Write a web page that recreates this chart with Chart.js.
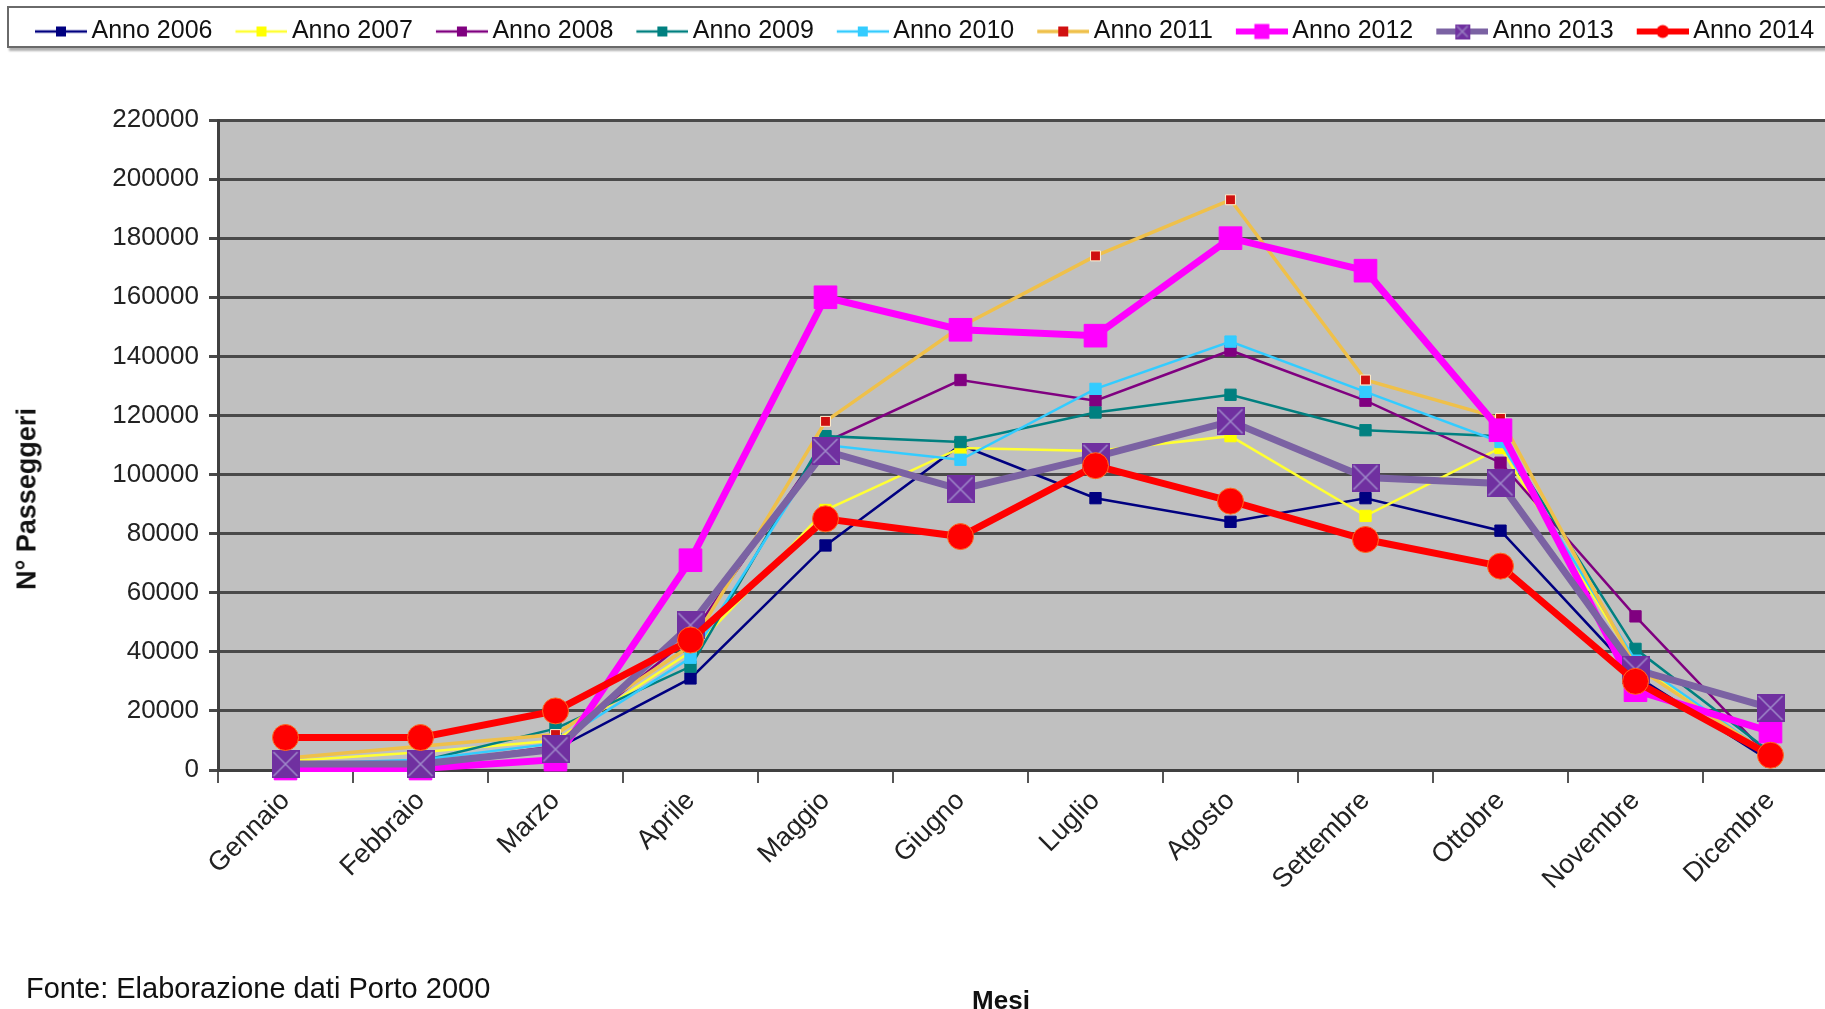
<!DOCTYPE html>
<html>
<head>
<meta charset="utf-8">
<script src="https://cdn.jsdelivr.net/npm/chart.js"></script>
<style>
html, body { margin: 0; padding: 0; background: #fff; overflow: hidden; width: 1825px; height: 1009px; }
#wrap { position: absolute; left: 0; top: 0; width: 1840px; height: 1009px; }
#chart { width: 1840px; height: 1009px; }
#legend-box { position: absolute; left: 7px; top: 6px; width: 1840px; height: 38px; border: 2px solid #6a6a6a; box-shadow: 2px 3px 2px #b0b0b0; }
#ytitle { position: absolute; left: 27px; top: 499px; transform: translate(-50%, -50%) rotate(-90deg); font: bold 27px "Liberation Sans", Arial, sans-serif; white-space: nowrap; color: #111; }
#fonte { position: absolute; left: 26px; top: 972px; font: 29px "Liberation Sans", Arial, sans-serif; color: #111; white-space: nowrap; }
#mesi { position: absolute; left: 1001px; top: 985px; transform: translateX(-50%); font: bold 26px "Liberation Sans", Arial, sans-serif; color: #111; }
</style>
</head>
<body>
<div id="legend-box"></div>
<div id="wrap"><canvas id="chart" width="1840" height="1009"></canvas></div>
<div id="ytitle">N° Passeggeri</div>
<div id="fonte">Fonte: Elaborazione dati Porto 2000</div>
<div id="mesi">Mesi</div>
<script>
const mesi = ['Gennaio', 'Febbraio', 'Marzo', 'Aprile', 'Maggio', 'Giugno', 'Luglio', 'Agosto', 'Settembre', 'Ottobre', 'Novembre', 'Dicembre'];
const anni = ['Anno 2006', 'Anno 2007', 'Anno 2008', 'Anno 2009', 'Anno 2010', 'Anno 2011', 'Anno 2012', 'Anno 2013', 'Anno 2014'];

const v2006 = [1500, 2000, 7000, 31000, 76000, 110000, 92000, 84000, 92000, 81000, 32000, 3000];
const v2007 = [3000, 6000, 10000, 40000, 88000, 109000, 108000, 113000, 86000, 109000, 36000, 5000];
const v2008 = [1000, 2000, 8000, 45000, 111000, 132000, 125000, 142000, 125000, 104000, 52000, 4000];
const v2009 = [2000, 3000, 14000, 35000, 113000, 111000, 121000, 127000, 115000, 113000, 41000, 6000];
const v2010 = [2000, 3500, 9000, 38000, 110000, 105000, 129000, 145000, 128000, 111000, 37000, 5000];
const v2011 = [4000, 8000, 12000, 42000, 118000, 150000, 174000, 193000, 132000, 119000, 35000, 5000];
const v2012 = [500, 500, 3500, 71000, 160000, 149000, 147000, 180000, 169000, 115000, 27000, 13000];
const v2013 = [2000, 2000, 7000, 49000, 108000, 95000, 106000, 118000, 99000, 97000, 34000, 21000];
const v2014 = [11000, 11000, 20000, 44000, 85000, 79000, 103000, 91000, 78000, 69000, 30000, 5000];
const serie = [v2006, v2007, v2008, v2009, v2010, v2011, v2012, v2013, v2014];

const yMax = 220000;
const yStep = 20000;

// stile di ogni anno (colore linea, colore punto, spessori)
const stili = [
    { line: '#000080', fill: '#000080', edge: '#000080', w: 2.5, r: 8, ps: 'rect' },
    { line: '#ffff33', fill: '#ffff00', edge: '#ffff00', w: 2.5, r: 8, ps: 'rect' },
    { line: '#800080', fill: '#800080', edge: '#800080', w: 2.5, r: 8, ps: 'rect' },
    { line: '#008080', fill: '#008080', edge: '#008080', w: 2.5, r: 8, ps: 'rect' },
    { line: '#33ccff', fill: '#33ccff', edge: '#33ccff', w: 2.5, r: 8, ps: 'rect' },
    { line: '#efc04a', fill: '#d01010', edge: '#fff2d0', w: 3.5, r: 7, ps: 'rect' },
    { line: '#ff00ff', fill: '#ff00ff', edge: '#ff00ff', w: 7, r: 16, ps: 'rect' },
    { line: '#7b62a3', fill: '#7030a0', edge: '#7030a0', w: 7, r: 14, ps: 'cross' },
    { line: '#ff0000', fill: '#ff0000', edge: '#ff6a20', w: 7, r: 13, ps: 'circle' }
];

function crossSquare(size, fill, cross) {
    const c = document.createElement('canvas');
    c.width = size; c.height = size;
    const g = c.getContext('2d');
    g.fillStyle = fill;
    g.fillRect(0, 0, size, size);
    g.strokeStyle = cross;
    g.lineWidth = 1.5;
    g.beginPath();
    g.moveTo(2, 2); g.lineTo(size - 2, size - 2);
    g.moveTo(size - 2, 2); g.lineTo(2, size - 2);
    g.stroke();
    return c;
}

// icona legenda: linea + marcatore, spostata a destra per avvicinare il testo
function legendIcon(st) {
    const c = document.createElement('canvas');
    c.width = 64; c.height = 22;
    const g = c.getContext('2d');
    const x0 = 12, x1 = 64, cx = 38;
    g.strokeStyle = st.line;
    g.lineWidth = Math.min(st.w, 6);
    g.beginPath(); g.moveTo(x0, 11); g.lineTo(x1, 11); g.stroke();
    const big = st.w > 5;
    const s = big ? 15 : 10;
    if (st.ps === 'circle') {
        g.fillStyle = st.fill;
        g.beginPath(); g.arc(cx, 11, 6.5, 0, Math.PI * 2); g.fill();
    } else if (st.ps === 'cross') {
        g.drawImage(crossSquare(s, st.fill, '#9b86c4'), cx - s / 2, 11 - s / 2);
    } else {
        g.fillStyle = st.fill;
        g.fillRect(cx - s / 2, 11 - s / 2, s, s);
    }
    return c;
}

const icone = stili.map(legendIcon);

const datasets = anni.map((nome, i) => {
    const st = stili[i];
    return {
        label: nome,
        data: serie[i],
        borderColor: st.line,
        backgroundColor: st.fill,
        borderWidth: st.w,
        pointStyle: st.ps === 'cross' ? crossSquare(st.r * 2, st.fill, '#a08ccb') : st.ps,
        pointRadius: st.r,
        pointBackgroundColor: st.fill,
        pointBorderColor: st.edge,
        pointBorderWidth: 1,
        tension: 0,
        clip: false,
        order: anni.length - 1 - i
    };
});

const bgPlugin = {
    id: 'plotBg',
    beforeDraw(chart) {
        const a = chart.chartArea;
        const c = chart.ctx;
        c.save();
        c.fillStyle = '#c0c0c0';
        c.fillRect(a.left, a.top, a.right - a.left, a.bottom - a.top);
        c.restore();
    }
};

const legendHeight = {
    id: 'legendHeight',
    afterInit(chart) {
        const lg = chart.legend;
        const orig = lg.fit;
        lg.fit = function () { orig.call(this); this.height = 120; };
    }
};

const ctx = document.getElementById('chart').getContext('2d');
const chart = new Chart(ctx, {
    type: 'line',
    data: { labels: mesi, datasets: datasets },
    options: {
        responsive: false,
        animation: false,
        layout: { autoPadding: false, padding: { top: 0, left: 12, right: 2, bottom: 0 } },
        plugins: {
            legend: {
                position: 'top',
                align: 'start',
                labels: {
                    usePointStyle: true,
                    pointStyleWidth: 48,
                    padding: 19,
                    color: '#111',
                    font: { family: 'Liberation Sans', size: 25 },
                    sort: (a, b) => a.datasetIndex - b.datasetIndex,
                    generateLabels: (ch) => {
                        const items = Chart.defaults.plugins.legend.labels.generateLabels(ch);
                        items.forEach(it => { it.pointStyle = icone[it.datasetIndex]; });
                        return items;
                    }
                }
            },
            tooltip: { enabled: false }
        },
        scales: {
            x: {
                offset: true,
                grid: { offset: true, drawOnChartArea: false, drawTicks: true, tickLength: 13, color: '#555', lineWidth: 2 },
                border: { color: '#404040', width: 3 },
                ticks: { autoSkip: false, maxRotation: 45, minRotation: 45, padding: 2, color: '#222', font: { family: 'Liberation Sans', size: 27 } },
                afterFit: (s) => { s.height = 239; }
            },
            y: {
                min: 0,
                max: yMax,
                ticks: { stepSize: yStep, padding: 10, color: '#222', font: { family: 'Liberation Sans', size: 26 }, callback: (v) => String(v) },
                grid: { color: '#4a4a4a', lineWidth: 3, drawTicks: true, tickLength: 9 },
                border: { color: '#404040', width: 3 },
                afterFit: (s) => { s.width = 206; }
            }
        }
    },
    plugins: [bgPlugin, legendHeight]
});
</script>
</body>
</html>
